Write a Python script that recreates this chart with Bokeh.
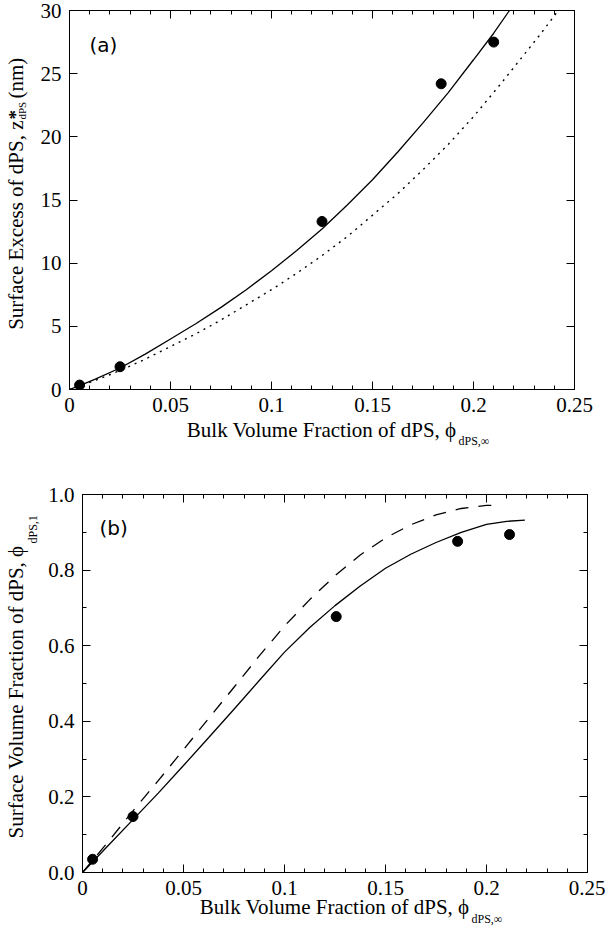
import numpy as np
from bokeh.plotting import figure
from bokeh.models import Range1d, LinearAxis, FixedTicker, CustomJSTickFormatter, Label, Plot
from bokeh.layouts import column
from bokeh.core.properties import value
from bokeh.embed import file_html
from bokeh.resources import INLINE

# ---------------- data ----------------
# panel (a): surface excess z*_dPS (nm) vs bulk volume fraction
a_pts_x = [0.005, 0.025, 0.125, 0.184, 0.21]
a_pts_y = [0.35, 1.8, 13.3, 24.2, 27.5]

a_fit_x = [0, 0.005, 0.0125, 0.025, 0.0375, 0.05, 0.0625, 0.075, 0.0875, 0.1, 0.1125,
           0.125, 0.1375, 0.15, 0.1625, 0.175, 0.1875, 0.2, 0.21, 0.2178]
a_fit_y = [0, 0.3, 0.8, 1.7, 2.8, 4.0, 5.2, 6.5, 7.9, 9.4, 11.0,
           12.7, 14.6, 16.6, 18.8, 21.1, 23.5, 26.1, 28.2, 30.0]

a_dot_x = [0, 0.0125, 0.025, 0.0375, 0.05, 0.0625, 0.075, 0.0875, 0.1, 0.1125, 0.125,
           0.1375, 0.15, 0.1625, 0.175, 0.1875, 0.2, 0.2125, 0.225, 0.2325, 0.242]
a_dot_y = [0, 0.7, 1.5, 2.4, 3.4, 4.4, 5.5, 6.7, 7.9, 9.2, 10.6,
           12.1, 13.8, 15.5, 17.4, 19.4, 21.6, 24.0, 26.5, 28.0, 30.0]

# panel (b): surface volume fraction phi_dPS,1 vs bulk volume fraction
b_pts_x = [0.005, 0.025, 0.1256, 0.1857, 0.2114]
b_pts_y = [0.035, 0.148, 0.677, 0.876, 0.894]

b_fit_x = [0, 0.0125, 0.025, 0.0375, 0.05, 0.0625, 0.075, 0.0875, 0.1, 0.1125, 0.125,
           0.1375, 0.15, 0.1625, 0.175, 0.1875, 0.2, 0.21, 0.219]
b_fit_y = [0, 0.07, 0.14, 0.21, 0.283, 0.357, 0.432, 0.508, 0.583, 0.648, 0.706,
           0.758, 0.805, 0.842, 0.873, 0.90, 0.921, 0.929, 0.932]

b_dash_x = [0, 0.0125, 0.025, 0.0375, 0.05, 0.0625, 0.075, 0.0875, 0.1, 0.1125, 0.125,
            0.1375, 0.15, 0.1625, 0.175, 0.1875, 0.2, 0.205]
b_dash_y = [0, 0.08, 0.163, 0.243, 0.325, 0.408, 0.49, 0.573, 0.652, 0.722, 0.785,
            0.84, 0.885, 0.92, 0.946, 0.963, 0.971, 0.972]

x_ticks = [0, 0.05, 0.1, 0.15, 0.2, 0.25]
x_minor = [0.01, 0.02, 0.03, 0.04, 0.06, 0.07, 0.08, 0.09, 0.11, 0.12, 0.13, 0.14,
           0.16, 0.17, 0.18, 0.19, 0.21, 0.22, 0.23, 0.24]
a_y_ticks = [0, 5, 10, 15, 20, 25, 30]
b_y_ticks = [0.0, 0.2, 0.4, 0.6, 0.8, 1.0]
b_y_minor = [0.1, 0.3, 0.5, 0.7, 0.9]

x_title = "Bulk Volume Fraction of dPS, \u03d5"
x_title_sub = "dPS,\u221e"
a_y_title = "Surface Excess of dPS, z"
a_y_sup = "*"
a_y_sub = "dPS"
a_y_unit = "(nm)"
b_y_title = "Surface Volume Fraction of dPS, \u03d5"
b_y_sub = "dPS,1"

SERIF = "Liberation Serif"
FS = "21px"
SUBFS = "12px"
ROT = np.pi / 2
NO_ALIGN = {"frame_align": False} if "frame_align" in Plot.properties() else {}


def make_fig(left, top, fw, fh, right, bottom, yr, yticks, yminor, ydigits):
    p = figure(title=None, frame_width=fw, frame_height=fh,
               min_border_left=left, min_border_top=top,
               min_border_right=right, min_border_bottom=bottom,
               x_range=Range1d(0, 0.25), y_range=Range1d(*yr),
               x_axis_location=None, y_axis_location=None,
               output_backend="svg", toolbar_location=None, **NO_ALIGN)
    p.xgrid.visible = False
    p.ygrid.visible = False
    p.outline_line_color = "black"
    p.outline_line_width = 1
    p.background_fill_color = "white"
    p.border_fill_color = "white"
    for loc in ("below", "above", "left", "right"):
        if loc in ("below", "above"):
            tk = FixedTicker(ticks=x_ticks, minor_ticks=x_minor)
            fmt = "return Number(tick.toFixed(2)).toString();"
        else:
            tk = FixedTicker(ticks=yticks, minor_ticks=yminor)
            fmt = "return tick.toFixed(%d);" % ydigits
        shown = loc in ("below", "left")
        ax = LinearAxis(ticker=tk,
                        formatter=CustomJSTickFormatter(code=fmt if shown else "return '';"),
                        axis_line_color="black", axis_line_width=1,
                        major_tick_line_color="black", minor_tick_line_color="black",
                        major_tick_in=8, major_tick_out=0,
                        minor_tick_in=4, minor_tick_out=0,
                        major_label_text_font=SERIF,
                        major_label_text_font_size=FS if shown else "0px",
                        major_label_text_color="black",
                        major_label_standoff=8 if shown else 0)
        p.add_layout(ax, loc)
    return p


# ---------------- panel (a) ----------------
pa = make_fig(left=69, top=10, fw=505, fh=379, right=20, bottom=53,
              yr=(0, 30), yticks=a_y_ticks, yminor=[], ydigits=0)
pa.line(a_fit_x, a_fit_y, line_color="black", line_width=1.3)
pa.line(a_dot_x, a_dot_y, line_color="black", line_width=1.4, line_dash="2 5")
pa.scatter(a_pts_x, a_pts_y, size=10, color="black")
pa.add_layout(Label(x=20, y=345, x_units="screen", y_units="screen", text="(a)",
                    text_font="DejaVu Sans", text_font_size="20px",
                    text_baseline="middle", text_color="black"))

# ---------------- panel (b) ----------------
pb = make_fig(left=82, top=52, fw=505, fh=378, right=18, bottom=55,
              yr=(0, 1.0), yticks=b_y_ticks, yminor=b_y_minor, ydigits=1)
pb.line(b_fit_x, b_fit_y, line_color="black", line_width=1.3)
pb.line(b_dash_x, b_dash_y, line_color="black", line_width=1.3, line_dash="13 10")
pb.scatter(b_pts_x, b_pts_y, size=10, color="black")
pb.add_layout(Label(x=17, y=345, x_units="screen", y_units="screen", text="(b)",
                    text_font="DejaVu Sans", text_font_size="20px",
                    text_baseline="middle", text_color="black"))

# ---------------- transparent overlay carrying the axis titles ----------------
OW, OH = 605, 927          # size of the whole column (442 + 485)
ov = figure(title=None, frame_width=OW, frame_height=OH, min_border=0,
            x_range=Range1d(0, OW), y_range=Range1d(0, OH),
            x_axis_location=None, y_axis_location=None,
            output_backend="svg", toolbar_location=None, margin=(-OH, 0, 0, 0),
            **NO_ALIGN)
ov.xgrid.visible = False
ov.ygrid.visible = False
ov.outline_line_color = None
ov.background_fill_color = None
ov.border_fill_color = None


def txt(x, y, s, size=FS, align="left", angle=0.0, style="normal"):
    # x, y: pixels from the overlay's left / bottom edge
    ov.text(x=[x], y=[y], text=[s], text_font=value(SERIF), text_font_size=value(size),
            text_align=align, text_baseline="alphabetic", angle=angle,
            text_color="black", text_font_style=style)


# panel (a) titles
txt(456, 498, x_title, align="right")
txt(458, 487, x_title_sub, size=SUBFS)
txt(15, 807, a_y_title, align="right", angle=ROT)
txt(15, 808, a_y_sup, size="19px", angle=ROT, style="bold")
txt(21, 808, a_y_sub, size="11px", angle=ROT)
txt(15, 829, a_y_unit, angle=ROT)

# panel (b) titles
txt(469, 21, x_title, align="right")
txt(471, 9, x_title_sub, size=SUBFS)
txt(15, 382, b_y_title, align="right", angle=ROT)
txt(32, 384, b_y_sub, size=SUBFS, angle=ROT)

layout = column(pa, pb, ov)
open("out.html", "w").write(file_html(layout, INLINE))
